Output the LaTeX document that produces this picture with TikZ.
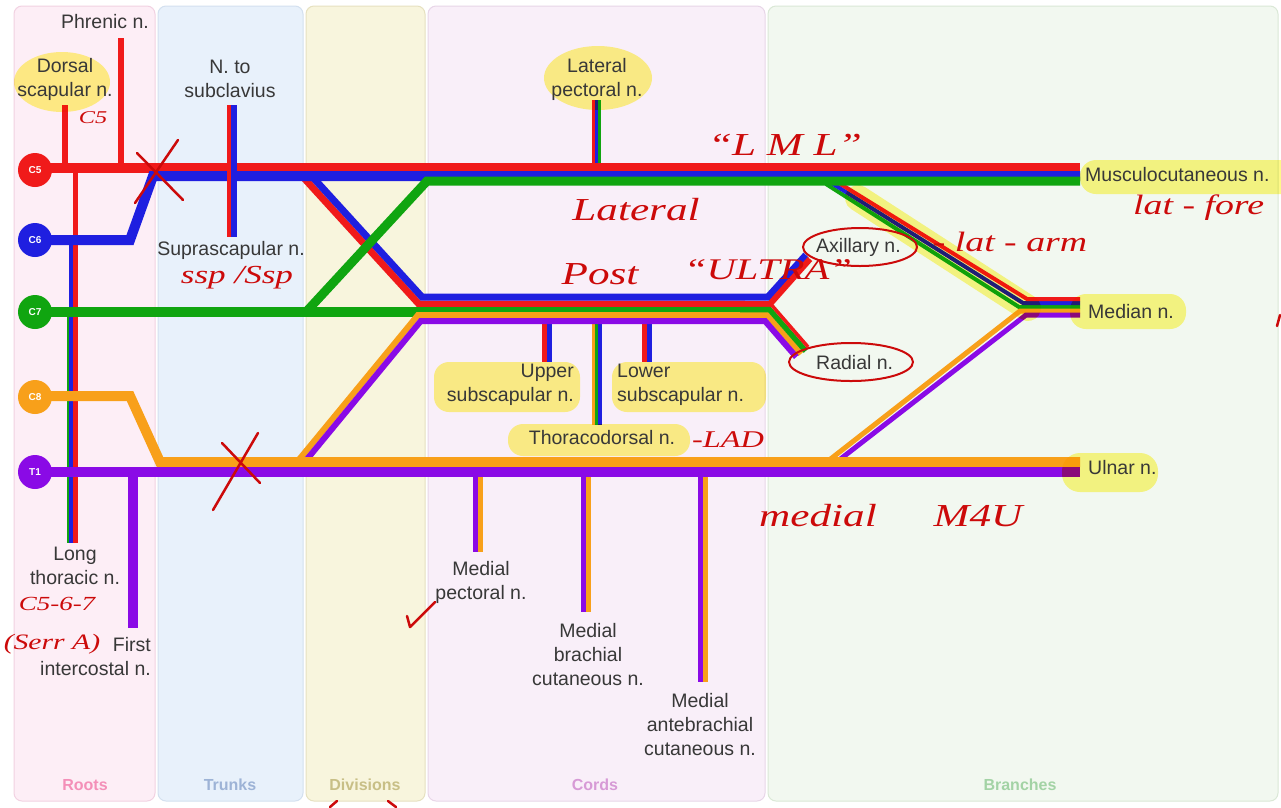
\documentclass[tikz,border=0pt]{standalone}
\usepackage{fontspec}
\setmainfont{Liberation Sans}
\newfontfamily\handfont[FakeStretch=1.35]{Liberation Serif}
\definecolor{cR}{HTML}{F01A1A}
\definecolor{cB}{HTML}{1F1FE0}
\definecolor{cG}{HTML}{10A510}
\definecolor{cO}{HTML}{F8A01A}
\definecolor{cP}{HTML}{8A0AE6}
\definecolor{txt}{HTML}{383838}
\definecolor{inkc}{HTML}{CC0A0A}
\definecolor{hl}{HTML}{FFF988}
\definecolor{rootF}{HTML}{FDEEF6}\definecolor{rootD}{HTML}{F2D2E2}\definecolor{rootT}{HTML}{F48FB8}
\definecolor{trunkF}{HTML}{E8F1FB}\definecolor{trunkD}{HTML}{D3E0EF}\definecolor{trunkT}{HTML}{9DB3D6}
\definecolor{divF}{HTML}{F8F5DD}\definecolor{divD}{HTML}{E6E1C0}\definecolor{divT}{HTML}{C8BF86}
\definecolor{cordF}{HTML}{F9EFF9}\definecolor{cordD}{HTML}{E8D6E8}\definecolor{cordT}{HTML}{D79AD6}
\definecolor{brF}{HTML}{F2F8F0}\definecolor{brD}{HTML}{DAE8D6}\definecolor{brT}{HTML}{A3D3A5}
\begin{document}
\begin{tikzpicture}[x=1pt,y=-1pt,
  panel/.style={rounded corners=8pt,line width=1pt},
  ptitle/.style={font=\bfseries\fontsize{16}{19}\selectfont,inner sep=0pt},
  lbl/.style={text=txt,font=\fontsize{19.5}{24}\selectfont,align=center,inner sep=0pt},
  rootnode/.style={circle,minimum size=34pt,inner sep=0pt,text=white,font=\bfseries\fontsize{10}{12}\selectfont},
  ink/.style={text=inkc,inner sep=0pt,font=\handfont\itshape\fontsize{#1}{#1}\selectfont},
  inkline/.style={draw=inkc,line width=2.5pt,line cap=round,line join=round},
  sr/.style={draw=cR,line width=#1}, sr/.default=10,
  sb/.style={draw=cB,line width=#1}, sb/.default=10,
  sg/.style={draw=cG,line width=#1}, sg/.default=10,
  so/.style={draw=cO,line width=#1}, so/.default=10,
  sp/.style={draw=cP,line width=#1}, sp/.default=10,
]
\useasboundingbox (0,0) rectangle (1281,807);
\fill[white] (0,0) rectangle (1281,807);

% ---------- panels ----------
\draw[panel,fill=rootF,draw=rootD] (14,6) rectangle (155,801);
\draw[panel,fill=trunkF,draw=trunkD] (158,6) rectangle (303,801);
\draw[panel,fill=divF,draw=divD] (306,6) rectangle (425,801);
\draw[panel,fill=cordF,draw=cordD] (428,6) rectangle (765,801);
\draw[panel,fill=brF,draw=brD] (768,6) rectangle (1278,801);
\node[ptitle,text=rootT] (tRoots) at (85,785) {Roots};
\node[ptitle,text=trunkT] (tTrunks) at (230,785) {Trunks};
\node[ptitle,text=divT] (tDiv) at (365,785) {Divisions};
\node[ptitle,text=cordT] (tCords) at (595,785) {Cords};
\node[ptitle,text=brT] (tBr) at (1020,785) {Branches};

% ---------- small vertical branches (under the cords) ----------
\draw[sr=6] (65,105) -- (65,170);
\draw[sr=6] (121,38) -- (121,170);
\draw[sr=5] (75.5,168) -- (75.5,543);
\draw[sb=4] (71,240) -- (71,543);
\draw[sg=2.5] (68.2,312) -- (68.2,543);
\draw[sr=3] (593.5,100) -- (593.5,168);
\draw[sb=3] (596.5,100) -- (596.5,168);
\draw[sg=3] (599.5,100) -- (599.5,168);
\draw[sr=5] (544.5,318) -- (544.5,362);
\draw[sb=5] (549.5,318) -- (549.5,362);
\draw[sr=5] (644.5,318) -- (644.5,362);
\draw[sb=5] (649.5,318) -- (649.5,362);
\draw[so=3] (593.5,318) -- (593.5,425);
\draw[sg=3] (596.5,318) -- (596.5,425);
\draw[sb=4] (600,318) -- (600,425);
\draw[sp=5] (475.5,470) -- (475.5,552);
\draw[so=5] (480.5,470) -- (480.5,552);
\draw[sp=5] (583,470) -- (583,612);
\draw[so=5] (588,470) -- (588,612);
\draw[sp=5] (700,470) -- (700,682);
\draw[so=5] (705,470) -- (705,682);
\draw[sp=10] (133,470) -- (133,628);

% ---------- roots of the median nerve ----------
\draw[sg=4] (826,184) -- (1019,307) -- (1080,307);
\draw[sb=4] (830,182) -- (1023,303) -- (1080,303);
\draw[sr=4] (834,180) -- (1027,299) -- (1080,299);
\draw[so=5] (828,461) -- (1020,311) -- (1080,311);
\draw[sp=5] (834,464) -- (1026,315) -- (1080,315);

% ---------- posterior division of upper trunk -> posterior cord ----------
\draw[sr=7] (302.1,176) -- (418.9,304) -- (745,304);
\draw[sb=7] (309.8,174) -- (422,297) -- (768,297) -- (806,255);

% ---------- C5, C6 / upper trunk / lateral cord ----------
\draw[sr=10] (35,168) -- (1080,168);
\draw[sb=10] (35,240) -- (130,240) -- (153,176) -- (1080,176);
\draw[sr=4] (228.5,105) -- (228.5,237);
\draw[sb=6] (233.5,105) -- (233.5,237);

% ---------- C7 ----------
\draw[sg=10] (35,312) -- (745,312);
\draw[sg=9] (306,312) -- (427,181) -- (1080,181);

% ---------- posterior division of lower trunk ----------
\draw[so=6] (297,462) -- (418,315) -- (767,315) -- (800.9,354);
\draw[sp=6] (300.6,467) -- (420.8,321) -- (765,321) -- (796.3,357);

% ---------- axillary / radial ----------
\draw[sr=6] (740,304) -- (770,304) -- (810,259);
\draw[sg=5.5] (740,309.5) -- (769.5,309.5) -- (805.7,351);
\draw[sr=3.5] (745,304) -- (770.7,304) -- (808.1,347);

% ---------- C8, T1 / lower trunk / medial cord ----------
\draw[so=10] (35,396) -- (130,396) -- (160,462) -- (1080,462);
\draw[sp=10] (35,472) -- (1080,472);

% ---------- root circles ----------
\node[rootnode,fill=cR] (C5) at (35,170) {C5};
\node[rootnode,fill=cB] (C6) at (35,240) {C6};
\node[rootnode,fill=cG] (C7) at (35,312) {C7};
\node[rootnode,fill=cO] (C8) at (35,397) {C8};
\node[rootnode,fill=cP] (T1) at (35,472) {T1};

% ---------- highlights ----------
\begin{scope}[blend mode=multiply]
\fill[hl] (62,82) ellipse [x radius=48pt, y radius=30pt];
\fill[hl] (598,78) ellipse [x radius=54pt, y radius=32pt];
\fill[hl,rounded corners=15pt] (434,362) rectangle (580,412);
\fill[hl,rounded corners=15pt] (612,362) rectangle (766,412);
\fill[hl,rounded corners=15pt] (508,424) rectangle (690,456);
\fill[hl,rounded corners=16pt] (1080,160) rectangle (1300,194);
\fill[hl,rounded corners=16pt] (1070,294) rectangle (1186,329);
\fill[hl,rounded corners=18pt] (1062,453) rectangle (1158,492);
\draw[hl,line width=26pt,line cap=round] (858,198) -- (1028,308);
\end{scope}

% ---------- labels ----------
\node[lbl] (phrenic) at (105,22) {Phrenic n.};
\node[lbl] (dorsal) at (65,79) {Dorsal\\scapular n.};
\node[lbl] (subcl) at (230,79) {N. to\\subclavius};
\node[lbl] (supra) at (231,250) {Suprascapular n.};
\node[lbl] (latpec) at (597,79) {Lateral\\pectoral n.};
\node[lbl,anchor=east,align=right] (upsub) at (574,385) {Upper\\subscapular n.};
\node[lbl,anchor=west,align=left] (losub) at (617,385) {Lower\\subscapular n.};
\node[lbl] (thdors) at (602,438) {Thoracodorsal n.};
\node[lbl,anchor=west] (musc) at (1085,175) {Musculocutaneous n.};
\node[lbl,anchor=west] (axil) at (816,247) {Axillary n.};
\node[lbl,anchor=west] (median) at (1088,312) {Median n.};
\node[lbl,anchor=west] (radial) at (816,363) {Radial n.};
\node[lbl,anchor=west] (ulnar) at (1088,468) {Ulnar n.};
\node[lbl] (longth) at (75,566) {Long\\thoracic n.};
\node[lbl,anchor=east,align=right] (firstic) at (151,657) {First\\intercostal n.};
\node[lbl] (medpec) at (481,582) {Medial\\pectoral n.};
\node[lbl] (medbr) at (588,655) {Medial\\brachial\\cutaneous n.};
\node[lbl] (medante) at (700,725) {Medial\\antebrachial\\cutaneous n.};

% ---------- handwritten annotations ----------
\node[ink=18] (a1) at (93,118) {C5};
\node[ink=26] (a2) at (237,278) {ssp /Ssp};
\node[ink=20] (a3) at (57,604) {C5-6-7};
\node[ink=22] (a4) at (52,644) {(Serr A)};
\node[ink=32] (a5) at (785,145) {“L M L”};
\node[ink=32] (a6) at (636,210) {Lateral};
\node[ink=32] (a7) at (600,274) {Post};
\node[ink=30] (a8) at (768,270) {“ULTRA”};
\node[ink=28] (a9) at (1010,242) {- lat - arm};
\node[ink=28,anchor=west] (a10) at (1133,208) {lat - fore};
\node[ink=24] (a11) at (728,440) {-LAD};
\node[ink=32] (a12) at (818,516) {medial};
\node[ink=32] (a13) at (978,516) {M4U};
\draw[inkline] (137,153) -- (183,200);
\draw[inkline] (178,140) -- (135,203);
\draw[inkline] (222,443) -- (260,483);
\draw[inkline] (258,433) -- (213,510);
\draw[inkline] (407,616) -- (410,627) -- (435,602);
\draw[inkline,line width=2pt] (860,247) ellipse [x radius=57pt, y radius=19pt];
\draw[inkline,line width=2pt] (851,362) ellipse [x radius=62pt, y radius=19pt];
\draw[inkline] (330,807) -- (337,801);
\draw[inkline] (388,801) -- (396,807);
\draw[inkline] (1280,315) -- (1277,326);
\end{tikzpicture}
\end{document}
